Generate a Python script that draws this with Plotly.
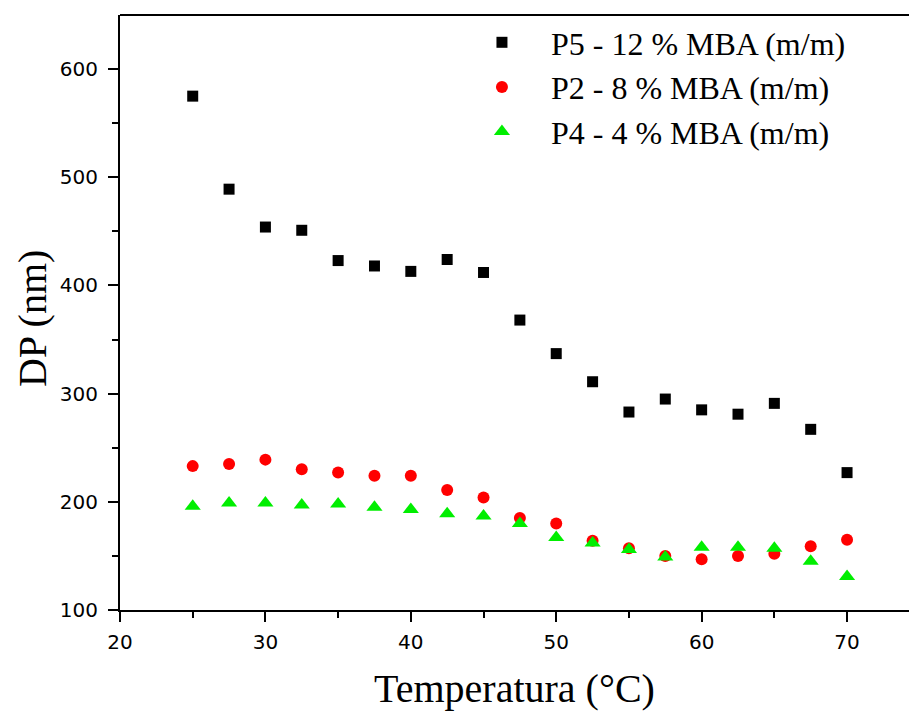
import plotly.graph_objects as go

temperatura = [25, 27.5, 30, 32.5, 35, 37.5, 40, 42.5, 45, 47.5, 50,
               52.5, 55, 57.5, 60, 62.5, 65, 67.5, 70]
p5_12 = [575, 489, 454, 451, 423, 418, 413, 424, 412, 368, 337,
         311, 283, 295, 285, 281, 291, 267, 227]
p2_8 = [233, 235, 239, 230, 227, 224, 224, 211, 204, 185, 180,
        164, 157, 150, 147, 150, 152, 159, 165]
p4_4 = [196, 199, 199, 197, 198, 195, 193, 189, 187, 180, 167,
        162, 156, 149, 158, 158, 157, 145, 131]

series = [
    ("P5 - 12 % MBA (m/m)", p5_12, "square", "#000000", 11),
    ("P2 - 8 % MBA (m/m)", p2_8, "circle", "#ff0000", 12),
    ("P4 - 4 % MBA (m/m)", p4_4, "triangle-up", "#00ee00", 14),
]

fig = go.Figure()
for name, vals, sym, col, size in series:
    fig.add_trace(go.Scatter(
        x=temperatura, y=vals, mode="markers", name=name,
        marker=dict(symbol=sym, color=col, size=size, line=dict(width=0)),
    ))

tick_font = dict(family="DejaVu Sans", size=20, color="#000")
title_font = dict(family="Liberation Serif, Times New Roman", size=40, color="#000")

fig.update_layout(
    width=909, height=711,
    margin=dict(l=120, r=0, t=15, b=101),
    paper_bgcolor="white", plot_bgcolor="white",
    showlegend=True,
    legend=dict(
        x=0.422, y=1.0, xanchor="left", yanchor="top",
        font=dict(family="Liberation Serif, Times New Roman", size=32, color="#000"),
        bgcolor="rgba(0,0,0,0)", itemsizing="trace", itemwidth=88,
        tracegroupgap=0,
    ),
    xaxis=dict(
        range=[20, 74.26], tickvals=[20, 30, 40, 50, 60, 70],
        showgrid=False, zeroline=False,
        showline=True, linecolor="#000", linewidth=2, mirror=False,
        ticks="outside", ticklen=10, tickwidth=2, tickcolor="#000",
        minor=dict(tickvals=[25, 35, 45, 55, 65], ticks="outside",
                   ticklen=6, tickwidth=2, tickcolor="#000"),
        tickfont=tick_font, ticklabelstandoff=3,
        title=dict(text="Temperatura (°C)", font=title_font, standoff=26),
    ),
    yaxis=dict(
        range=[100, 650], tickvals=[100, 200, 300, 400, 500, 600],
        showgrid=False, zeroline=False,
        showline=True, linecolor="#000", linewidth=2, mirror=False,
        ticks="outside", ticklen=10, tickwidth=2, tickcolor="#000",
        minor=dict(tickvals=[150, 250, 350, 450, 550], ticks="outside",
                   ticklen=6, tickwidth=2, tickcolor="#000"),
        tickfont=tick_font, ticklabelstandoff=6,
    ),
)

# vertical y-axis title placed beside the tick labels
fig.add_annotation(
    text="DP (nm)", textangle=-90, showarrow=False,
    xref="paper", yref="paper", x=0, y=0.489,
    xanchor="center", yanchor="middle", xshift=-88,
    font=title_font,
)

# top frame line across the plot area
fig.add_shape(type="line", xref="paper", yref="paper",
              x0=0, x1=1, y0=1, y1=1, line=dict(color="#000", width=2))

fig.write_html("out.html")
